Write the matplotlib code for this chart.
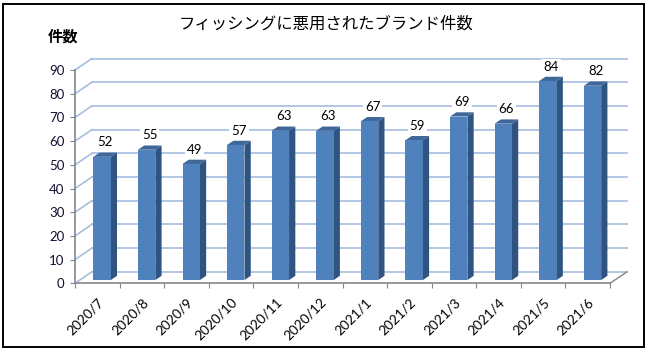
import matplotlib
matplotlib.use("Agg")
import matplotlib.pyplot as plt
from matplotlib.patches import Polygon, Rectangle

# data
months = ["2020/7", "2020/8", "2020/9", "2020/10", "2020/11", "2020/12",
          "2021/1", "2021/2", "2021/3", "2021/4", "2021/5", "2021/6"]
counts = [52, 55, 49, 57, 63, 63, 67, 59, 69, 66, 84, 82]
yticks = list(range(0, 100, 10))
title = "フィッシングに悪用されたブランド件数"
ylabel = "件数"

# pseudo-3d geometry (data units)
dx, dy = 0.38, 4.85       # depth of the back wall
f0, f1 = 0.28, 0.65       # front/back of the bars as fraction of depth
hw = 0.195                # half width of bar face

grid_c = "#A5BEE0"
axis_c = "#868686"
front_c = "#4F81BD"
side_c = "#2F5482"
top_c = "#3F6799"

fig = plt.figure(figsize=(6.52, 3.53), dpi=100)
fig.patches.append(Rectangle((3 / 652, 1 - 347 / 353), 641 / 652, 343 / 353,
                             transform=fig.transFigure, fill=False,
                             edgecolor="black", linewidth=1.4))

ax = fig.add_axes([75 / 652, (353 - 283.3) / 353, 535 / 652, 213.3 / 353])
n = len(months)
x0, x1 = -0.5, n - 0.5
ax.set_xlim(x0, x1)
ax.set_ylim(0, 90)

# back wall gridlines + left wall diagonals
for v in yticks:
    ax.plot([x0 + dx, x1 + dx], [v + dy, v + dy], color=grid_c, lw=1.2,
            clip_on=False, zorder=1)
    ax.plot([x0, x0 + dx], [v, v + dy], color=grid_c, lw=1.2,
            clip_on=False, zorder=1)
# floor right edge
ax.plot([x1, x1 + dx], [0, dy], color=axis_c, lw=1, clip_on=False, zorder=1)

# bars
for i, v in enumerate(counts):
    ox, oy = f0 * dx, f0 * dy
    bx, by = f1 * dx, f1 * dy
    l, r = i - hw + ox, i + hw + ox
    front = [(l, oy), (r, oy), (r, v + oy), (l, v + oy)]
    side = [(r, oy), (r - ox + bx, by), (r - ox + bx, v + by), (r, v + oy)]
    top = [(l, v + oy), (r, v + oy), (r - ox + bx, v + by), (l - ox + bx, v + by)]
    ax.add_patch(Polygon(side, closed=True, facecolor=side_c, edgecolor="none",
                         clip_on=False, zorder=3))
    ax.add_patch(Polygon(top, closed=True, facecolor=top_c, edgecolor="none",
                         clip_on=False, zorder=3))
    ax.add_patch(Polygon(front, closed=True, facecolor=front_c, edgecolor="none",
                         clip_on=False, zorder=3))
    ax.annotate(str(v), (i + 0.5 * (ox + bx), v + by), xytext=(0, 3),
                textcoords="offset points", ha="center", va="bottom",
                fontsize=9.5, family="Lato", color="black", zorder=4,
                bbox=dict(boxstyle="square,pad=0.15", fc="white", ec="none"))

# axes styling
for s in ["top", "right"]:
    ax.spines[s].set_visible(False)
for s in ["left", "bottom"]:
    ax.spines[s].set_color(axis_c)
    ax.spines[s].set_linewidth(1.2)
ax.set_yticks(yticks)
ax.set_yticklabels([str(t) for t in yticks], family="Lato", fontsize=9.5,
                   color="#101030")
ax.tick_params(axis="y", direction="out", length=3.5, color=axis_c, pad=4)
ax.set_xticks([x0 + k for k in range(n + 1)])
ax.set_xticklabels([])
ax.tick_params(axis="x", which="major", direction="out", length=3.5, color=axis_c)
ax.set_xticks(range(n), minor=True)
ax.set_xticklabels(months, minor=True, rotation=45, ha="right", va="top",
                   rotation_mode="anchor", family="Lato", fontsize=9.8)
ax.tick_params(axis="x", which="minor", length=0, pad=9)
ax.patch.set_alpha(0)

fig.text(326 / 652, 1 - 24 / 353, title, ha="center", va="center",
         fontsize=11.8, family=["Noto Sans CJK JP", "DejaVu Sans"])
fig.text(63 / 652, 1 - 37 / 353, ylabel, ha="center", va="center",
         fontsize=11, fontweight="bold", family=["Noto Sans CJK JP", "DejaVu Sans"])

fig.savefig("out.png", dpi=100)
